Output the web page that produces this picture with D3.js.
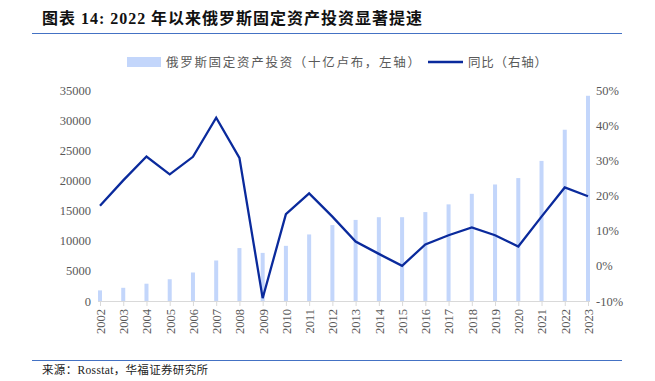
<!DOCTYPE html>
<html><head><meta charset="utf-8">
<script src="https://cdn.jsdelivr.net/npm/d3@7/dist/d3.min.js"></script>
<style>
html,body{margin:0;padding:0;background:#fff;}
svg{display:block;}
</style></head>
<body>
<svg id="chart" width="655" height="381"></svg>
<script>
const years = ["2002","2003","2004","2005","2006","2007","2008","2009","2010","2011","2012","2013","2014","2015","2016","2017","2018","2019","2020","2021","2022","2023"];
const investment = [1760,2190,2870,3610,4730,6720,8780,7980,9150,11040,12590,13450,13900,13900,14750,16030,17780,19330,20390,23240,28410,34040];
const yoy = [17.1,24.3,31.1,26.0,31.0,42.1,30.7,-9.2,14.7,20.6,14.0,6.9,3.4,0.0,6.1,8.7,10.9,8.7,5.5,14.0,22.3,19.8];
const leftTicks = [0,5000,10000,15000,20000,25000,30000,35000];
const rightTicks = [-10,0,10,20,30,40,50];
const title = "图表 14:  2022 年以来俄罗斯固定资产投资显著提速";
const legendBar = "俄罗斯固定资产投资（十亿卢布，左轴）";
const legendLine = "同比（右轴）";
const source = "来源：Rosstat，华福证券研究所";

const svg = d3.select("#chart");
const serif = "'Liberation Serif','DejaVu Serif',serif";
const cjk = "'Noto Sans CJK SC','Noto Sans',sans-serif";

// title
svg.append("text").attr("x",42).attr("y",24)
  .attr("font-family","'Liberation Serif','Noto Sans CJK SC',serif")
  .attr("font-weight","bold").attr("font-size",16).attr("fill","#111")
  .attr("textLength",380).attr("lengthAdjust","spacing")
  .text(title);
svg.append("line").attr("x1",32).attr("x2",622).attr("y1",33.5).attr("y2",33.5)
  .attr("stroke","#4472c4").attr("stroke-width",1);

const x = d3.scalePoint().domain(years).range([100,588]);
const yL = d3.scaleLinear().domain([0,35000]).range([301,90]);
const yR = d3.scaleLinear().domain([-10,50]).range([301,90]);

const barColor = "#c3d6fb", lineColor = "#0a2a9c", textColor = "#595959";

// left axis labels
const gL = svg.append("g").attr("transform","translate(91,0)")
  .call(d3.axisLeft(yL).tickValues(leftTicks).tickSize(0).tickPadding(0).tickFormat(d3.format("d")));
gL.select(".domain").remove();
gL.selectAll("text").attr("font-family",serif).attr("font-size",12.5).attr("fill",textColor);

// right axis labels
const gR = svg.append("g").attr("transform","translate(596,0)")
  .call(d3.axisRight(yR).tickValues(rightTicks).tickSize(0).tickPadding(0).tickFormat(d=>d+"%"));
gR.select(".domain").remove();
gR.selectAll("text").attr("font-family",serif).attr("font-size",12.5).attr("fill",textColor);

// bars
svg.append("g").selectAll("rect").data(years).join("rect")
  .attr("x",d=>x(d)-2).attr("width",4)
  .attr("y",(d,i)=>yL(investment[i]))
  .attr("height",(d,i)=>yL(0)-yL(investment[i]))
  .attr("fill",barColor);

// x axis
const gX = svg.append("g").attr("transform","translate(0,301)")
  .call(d3.axisBottom(x).tickSize(5).tickPadding(4).tickSizeOuter(0));
gX.select(".domain").attr("d","M98,0.5H590").attr("stroke","#d9d9d9");
gX.selectAll(".tick line").attr("stroke","#d9d9d9");
gX.selectAll("text").attr("font-family",serif).attr("font-size",12.5).attr("fill",textColor)
  .attr("transform","rotate(-90)").attr("text-anchor","end").attr("dy","0.35em").attr("x",-8).attr("y",0);

// line
const line = d3.line().x((d,i)=>x(years[i])).y(d=>yR(d));
svg.append("path").datum(yoy).attr("d",line).attr("fill","none")
  .attr("stroke",lineColor).attr("stroke-width",2.3).attr("stroke-linejoin","miter");

// legend
svg.append("rect").attr("x",127).attr("y",57).attr("width",34).attr("height",10).attr("fill",barColor);
svg.append("text").attr("x",166).attr("y",66.5).attr("font-family",cjk).attr("font-size",12.5)
  .attr("fill",textColor).attr("textLength",254).attr("lengthAdjust","spacing").text(legendBar);
svg.append("line").attr("x1",428).attr("x2",463).attr("y1",62).attr("y2",62)
  .attr("stroke",lineColor).attr("stroke-width",2.3);
svg.append("text").attr("x",468).attr("y",66.5).attr("font-family",cjk).attr("font-size",12.5)
  .attr("fill",textColor).attr("textLength",79).attr("lengthAdjust","spacing").text(legendLine);

// footer
svg.append("line").attr("x1",32).attr("x2",622).attr("y1",360.5).attr("y2",360.5)
  .attr("stroke","#4472c4").attr("stroke-width",1);
svg.append("text").attr("x",42).attr("y",373.5).attr("font-family","'Liberation Serif','Noto Sans CJK SC',serif")
  .attr("font-size",11.5).attr("fill","#222").attr("textLength",166).attr("lengthAdjust","spacing").text(source);
</script>
</body></html>
